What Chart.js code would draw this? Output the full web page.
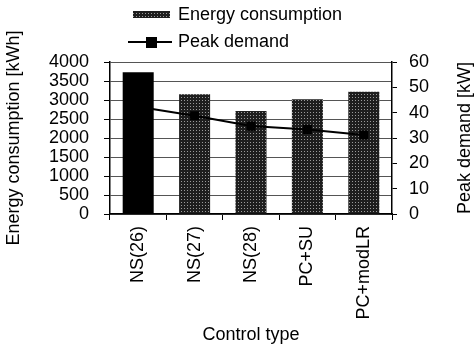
<!DOCTYPE html>
<html>
<head>
<meta charset="utf-8">
<script src="https://cdn.jsdelivr.net/npm/chart.js@4/dist/chart.umd.min.js"></script>
<style>
  html, body { margin: 0; padding: 0; background: #fff; }
  #wrap { width: 475px; height: 349px; }
</style>
</head>
<body>
<div id="wrap"><canvas id="chart" width="475" height="349"></canvas></div>
<script>
// control types and the two series
const categories = ["NS(26)", "NS(27)", "NS(28)", "PC+SU", "PC+modLR"];
const energyKWh = [3730, 3150, 2710, 3020, 3220];
const peakKW = [42.3, 38.8, 34.7, 33.4, 31.2];
const energyTicks = { min: 0, max: 4000, step: 500 };
const peakTicks = { min: 0, max: 60, step: 10 };

const FONT = "'Liberation Sans', Arial, sans-serif";

// stippled grey fill like the scanned bars
function stipple(){
  const c = document.createElement("canvas");
  c.width = 3; c.height = 3;
  const g = c.getContext("2d");
  g.fillStyle = "#1e1e1e"; g.fillRect(0,0,3,3);
  g.fillStyle = "#9a9a9a"; g.fillRect(1,1,1,1);
  return g.createPattern(c, "repeat");
}
const pat = stipple();
const barFill = energyKWh.map((v,i)=> i===0 ? "#000" : pat);

// two-row legend at the top left + right axis title read bottom-to-top
const extras = {
  id: "extras",
  afterDraw(chart){
    const ctx = chart.ctx;
    const bar = chart.data.datasets.find(d=>d.type==="bar");
    const line = chart.data.datasets.find(d=>d.type==="line");
    ctx.save();
    ctx.font = "18px " + FONT;
    ctx.textBaseline = "middle";
    ctx.fillStyle = pat;
    ctx.fillRect(133, 11, 37, 7);
    ctx.fillStyle = "#000";
    ctx.fillText(bar.label, 178, 15);
    ctx.strokeStyle = "#000"; ctx.lineWidth = 2;
    ctx.beginPath(); ctx.moveTo(128, 42); ctx.lineTo(172, 42); ctx.stroke();
    ctx.fillRect(146, 37, 11, 11);
    ctx.fillText(line.label, 178, 42);

    const s = chart.scales.y1;
    ctx.translate(s.right - 10, (s.top + s.bottom) / 2);
    ctx.rotate(-Math.PI/2);
    ctx.textAlign = "center";
    ctx.fillText("Peak demand [kW]", 0, 0);
    ctx.restore();
  }
};

const plain = v => String(v);

new Chart(document.getElementById("chart"), {
  data: {
    labels: categories,
    datasets: [
      { type: "line", label: "Peak demand", data: peakKW, yAxisID: "y1", order: 0,
        borderColor: "#000", borderWidth: 2, pointStyle: "rect", pointRadius: 5,
        pointBackgroundColor: "#000", pointBorderColor: "#000", tension: 0 },
      { type: "bar", label: "Energy consumption", data: energyKWh, yAxisID: "y", order: 1,
        backgroundColor: barFill, borderWidth: 0, categoryPercentage: 1, barPercentage: 0.55 }
    ]
  },
  options: {
    responsive: false,
    animation: false,
    layout: { padding: { top: 62, left: 0, right: 0, bottom: 0 } },
    plugins: { legend: { display: false }, tooltip: { enabled: false } },
    scales: {
      x: {
        offset: true,
        grid: { drawOnChartArea: false, drawTicks: true, tickLength: 6, color: "#000", offset: true },
        border: { color: "#000", width: 1.5 },
        ticks: { minRotation: 90, maxRotation: 90, autoSkip: false, padding: 6, color: "#000", font: { family: FONT, size: 18 } },
        title: { display: true, text: "Control type", color: "#000", font: { family: FONT, size: 18 }, padding: { top: 0, bottom: 3 } },
        afterFit(s){ s.height = 135; }
      },
      y: {
        position: "left",
        min: energyTicks.min, max: energyTicks.max,
        ticks: { stepSize: energyTicks.step, autoSkip: false, callback: plain, padding: 15, color: "#000", font: { family: FONT, size: 18, lineHeight: 1 } },
        grid: { color: "#555", lineWidth: 1, tickLength: 6, tickColor: "#000" },
        border: { color: "#000", width: 1.5 },
        title: { display: true, text: "Energy consumption [kWh]", color: "#000", font: { family: FONT, size: 18 }, padding: { top: 3 } },
        afterFit(s){ s.width = 110; }
      },
      y1: {
        position: "right",
        min: peakTicks.min, max: peakTicks.max,
        ticks: { stepSize: peakTicks.step, autoSkip: false, callback: plain, padding: 12, color: "#000", font: { family: FONT, size: 18, lineHeight: 1 } },
        grid: { drawOnChartArea: false, tickLength: 5, color: "#000" },
        border: { color: "#000", width: 1.5 },
        title: { display: false },
        afterFit(s){ s.width = 83; }
      }
    }
  },
  plugins: [extras]
});
</script>
</body>
</html>
